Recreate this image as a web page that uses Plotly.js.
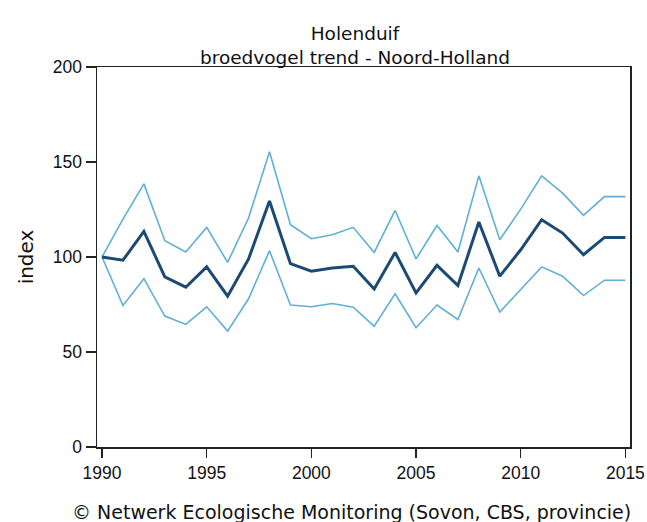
<!DOCTYPE html>
<html><head><meta charset="utf-8">
<script src="https://cdn.plot.ly/plotly-3.0.1.min.js"></script>
<style>html,body{margin:0;padding:0;background:#fff;}#chart{width:647px;height:522px;}</style>
</head><body><div id="chart"></div>
<script>
const years = [1990,1991,1992,1993,1994,1995,1996,1997,1998,1999,2000,2001,2002,2003,2004,2005,2006,2007,2008,2009,2010,2011,2012,2013,2014,2015];
const indexValues = [100,98.3,113.5,89.5,84.1,94.8,79.4,99,129.5,96.5,92.5,94.2,95.1,83.2,102.4,81.1,95.6,85,118.4,89.9,103.8,119.6,112.6,101.2,110.3,110.3];
const upperValues = [100,119.9,138.5,108.6,102.6,115.6,97.2,120.5,155.4,117,109.6,111.7,115.6,102.4,124.5,99,116.6,102.6,142.7,109.1,125.2,142.7,133.6,121.9,131.8,131.8];
const lowerValues = [100,74.5,88.6,68.9,64.5,73.8,61,78,103.3,74.7,73.8,75.5,73.6,63.6,80.6,62.8,74.7,67.1,94.2,71,82.9,94.8,89.9,79.7,87.8,87.8];

const band = '#5fb0d3';
const main = '#1b4a74';
const traces = [
  {x: years, y: upperValues, mode: 'lines', line: {color: band, width: 1.6}, hoverinfo: 'skip'},
  {x: years, y: lowerValues, mode: 'lines', line: {color: band, width: 1.6}, hoverinfo: 'skip'},
  {x: years, y: indexValues, mode: 'lines', line: {color: main, width: 3}}
];
const font = 'DejaVu Sans, Verdana, sans-serif';
const tickFont = 'Liberation Sans, Arial, sans-serif';
const layout = {
  width: 647, height: 522,
  margin: {l: 97, r: 17, t: 67, b: 75},
  paper_bgcolor: '#fff', plot_bgcolor: '#fff',
  showlegend: false,
  font: {family: font, color: '#111'},
  title: {text: 'Holenduif<br>broedvogel trend - Noord-Holland', xref: 'paper', x: 0.484, xanchor: 'center', yref: 'container', y: 0.9243, yanchor: 'middle', font: {family: font, size: 18.5, color: '#111'}},
  xaxis: {range: [1989.76, 2015.22], tickvals: [1990,1995,2000,2005,2010,2015], ticks: 'outside', ticklen: 9, tickwidth: 1.5, tickcolor: '#222',
    showgrid: false, zeroline: false, showline: true, linecolor: '#222', linewidth: 1.5, mirror: true,
    tickfont: {family: tickFont, size: 17.5, color: '#111'}},
  yaxis: {range: [0, 200], tickvals: [0,50,100,150,200], ticks: 'outside', ticklen: 10, tickwidth: 1.5, tickcolor: '#222',
    showgrid: false, zeroline: false, showline: true, linecolor: '#222', linewidth: 1.5, mirror: true,
    tickfont: {family: tickFont, size: 17.5, color: '#111'},
    title: {text: 'index', font: {family: font, size: 20, color: '#111'}, standoff: 14}},
  annotations: [{text: '© Netwerk Ecologische Monitoring (Sovon, CBS, provincie)', xref: 'paper', yref: 'paper', x: 0.478, y: -0.171, xanchor: 'center', yanchor: 'middle', showarrow: false,
    font: {family: font, size: 19, color: '#111'}}]
};
Plotly.newPlot('chart', traces, layout, {displayModeBar: false, staticPlot: true});
</script></body></html>
